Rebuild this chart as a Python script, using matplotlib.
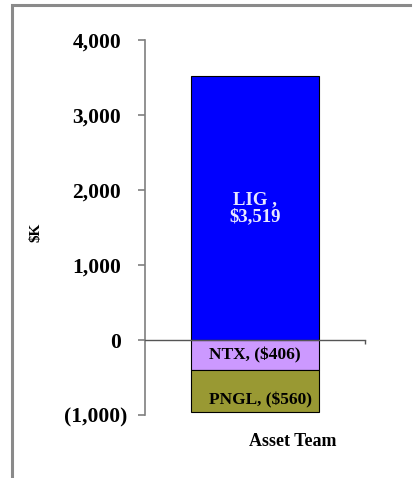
import matplotlib.pyplot as plt
from matplotlib.lines import Line2D
from matplotlib.ticker import FuncFormatter
from matplotlib.transforms import ScaledTranslation

# asset team contributions, $K
teams = ["LIG", "NTX", "PNGL"]
values = [3519, -406, -560]
colors = ["#0000FF", "#CC99FF", "#999933"]
label_colors = ["#E8E8FF", "black", "black"]
yticks = [-1000, 0, 1000, 2000, 3000, 4000]

plt.rcParams['font.family'] = ['Liberation Serif', 'DejaVu Serif']
plt.rcParams['font.weight'] = 'bold'

fig = plt.figure(figsize=(4.14, 4.78), dpi=100)
ax = fig.add_axes([0.3502, 0.1318, 0.5314, 0.7845])

# stack positives upward from zero, negatives downward
pos_base = 0
neg_base = 0
for name, v, c, lc in zip(teams, values, colors, label_colors):
    if v >= 0:
        b = pos_base
        pos_base += v
    else:
        b = neg_base
        neg_base += v
    ax.bar(0, v, bottom=b, width=0.585, color=c, edgecolor="black", linewidth=0.8, zorder=2)
    amt = "${:,}".format(v) if v >= 0 else "(${:,})".format(-v)
    if v >= 0:
        txt = "{} ,\n{}".format(name, amt)
        ax.text(0, b + v / 2, txt, ha="center", va="center", color=lc,
                fontsize=13.5, fontweight="bold", linespacing=1.0, zorder=3)
    elif name == "PNGL":
        ax.text(0.025, b + v / 2 - 120, "{}, {}".format(name, amt),
                ha="center", va="center", color=lc, fontsize=12.5, fontweight="bold", zorder=3)
    else:
        ax.text(0, b + v / 2, "{}, {}".format(name, amt),
                ha="center", va="center", color=lc, fontsize=12.5, fontweight="bold", zorder=3)

ax.set_xlim(-0.5, 0.5)
ax.set_ylim(yticks[0], yticks[-1])
ax.set_yticks(yticks)
ax.yaxis.set_major_formatter(FuncFormatter(
    lambda y, p: "{:,.0f}".format(y) if y >= 0 else "({:,.0f})".format(-y)))

for s in ["top", "right"]:
    ax.spines[s].set_visible(False)
ax.spines["bottom"].set_position(("data", 0))
ax.spines["left"].set_color("#7f7f7f")
ax.spines["left"].set_linewidth(1.2)
ax.spines["bottom"].set_color("#555555")
ax.spines["bottom"].set_linewidth(1.0)

ax.tick_params(axis="y", direction="out", length=5, width=1.2, color="#7f7f7f",
               pad=12, labelsize=15.5)
ax.set_xticks([0.5])
ax.set_xticklabels([])
ax.tick_params(axis="x", direction="out", length=3, width=1.0, color="#555555")

# negative label sits a little to the right (paren-aligned number format)
neg_tick = ax.yaxis.get_major_ticks()[0]
neg_tick.label1.set_transform(neg_tick.label1.get_transform()
                              + ScaledTranslation(6 / 100, 0, fig.dpi_scale_trans))

fig.text(36 / 414, 1 - 232 / 478, "$K", rotation=90, ha="center", va="center",
         fontsize=11, fontweight="bold")
fig.text(293 / 414, 1 - 442 / 478, "Asset Team", ha="center", va="center",
         fontsize=13, fontweight="bold")

# gray frame: top and left edges only
fx = 12.5 / 414
fy = 1 - 4.5 / 478
fig.lines.append(Line2D([fx, fx, 0.99], [0.0, fy, fy], transform=fig.transFigure,
                        color="#8a8a8a", linewidth=2.2, solid_joinstyle="miter"))

fig.savefig("out.png", dpi=100, facecolor="white")
